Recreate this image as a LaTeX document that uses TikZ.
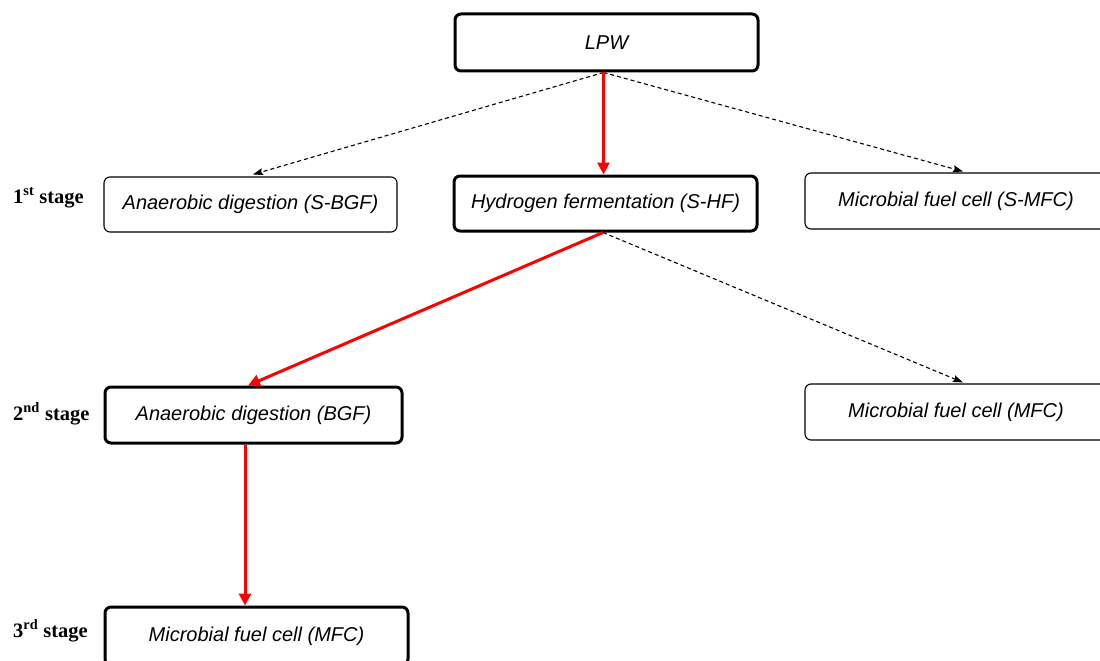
\documentclass[tikz,border=0pt]{standalone}
\usepackage{fontspec}
\setmainfont{Liberation Serif}
\setsansfont{Liberation Sans}
\usetikzlibrary{arrows.meta}
\tikzset{
  box/.style={draw=black, rounded corners=6pt, inner sep=0pt, align=center,
    font=\sffamily\itshape\fontsize{20}{24}\selectfont},
  thickbox/.style={box, line width=3pt},
  thinbox/.style={box, line width=1.1pt},
  redarrow/.style={draw=red, line width=3pt, -{Triangle[length=12pt,width=12pt]}},
  dasharrow/.style={draw=black, line width=1.1pt, dash pattern=on 4pt off 3pt,
    -{Stealth[length=10pt,width=7pt,inset=1.5pt]}},
  stagelabel/.style={inner sep=0pt, anchor=base west,
    font=\rmfamily\bfseries\fontsize{20.5}{24}\selectfont}
}
\begin{document}
\begin{tikzpicture}[x=1pt,y=-1pt]
\useasboundingbox (0,0) rectangle (1100,661);
\node[thickbox, minimum width=303pt, minimum height=57pt] (lpw) at (606.5,42.5) {LPW};
\node[thinbox, minimum width=293pt, minimum height=55pt] (sbgf) at (250.5,204.5) {Anaerobic digestion (S-BGF)};
\node[thickbox, minimum width=303pt, minimum height=55pt] (shf) at (605.5,203.5) {Hydrogen fermentation (S-HF)};
\node[thinbox, minimum width=302pt, minimum height=56pt] (smfc) at (956,201) {Microbial fuel cell (S-MFC)};
\node[thickbox, minimum width=297pt, minimum height=56pt] (bgf) at (253.5,415) {Anaerobic digestion (BGF)};
\node[thinbox, minimum width=302pt, minimum height=56pt] (mfc2) at (956,412) {Microbial fuel cell (MFC)};
\node[thickbox, minimum width=303pt, minimum height=58pt] (mfc3) at (256.5,636) {Microbial fuel cell (MFC)};

\node[stagelabel] (st1) at (13,203) {1\textsuperscript{st} stage};
\node[stagelabel] (st2) at (13,420) {2\textsuperscript{nd} stage};
\node[stagelabel] (st3) at (13,637) {3\textsuperscript{rd} stage};

\draw[dasharrow] ([xshift=-3pt]lpw.south) -- ([xshift=2.5pt,yshift=2pt]sbgf.north);
\draw[dasharrow] ([xshift=-3pt]lpw.south) -- ([xshift=7pt,yshift=1pt]smfc.north);
\draw[redarrow] ([xshift=-3pt]lpw.south) -- ([xshift=-2pt]shf.north);
\draw[redarrow] ([xshift=-2.5pt]shf.south) -- ([xshift=-5.5pt]bgf.north);
\draw[dasharrow] ([xshift=-2.5pt]shf.south) -- ([xshift=7pt,yshift=1pt]mfc2.north);
\draw[redarrow] ([xshift=-8.5pt]bgf.south) -- ([xshift=-11.5pt]mfc3.north);
\end{tikzpicture}
\end{document}
